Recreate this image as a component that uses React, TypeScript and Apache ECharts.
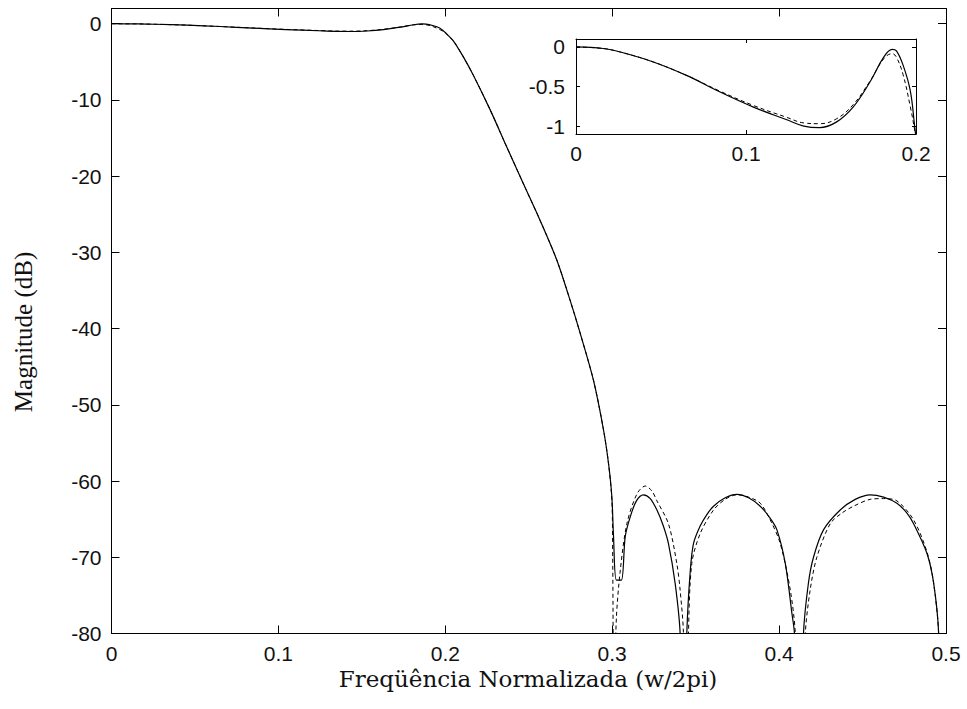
import React, { useEffect, useRef } from "react";
import * as echarts from "echarts";

// Passband (0 .. 0.2), shared by the main plot and the inset
const passFreq = [0, 0.016, 0.026, 0.0455, 0.065, 0.0848, 0.1044, 0.124, 0.134, 0.1433, 0.1531, 0.163, 0.173, 0.181, 0.186, 0.1885, 0.1924, 0.1966, 0.1992, 0.2];
const passSolid = [0, -0.02, -0.064, -0.19, -0.36, -0.57, -0.76, -0.92, -1.0, -1.02, -0.95, -0.76, -0.44, -0.13, -0.03, -0.05, -0.23, -0.55, -1.0, -1.15];
const passDashed = [0, -0.02, -0.064, -0.19, -0.36, -0.56, -0.74, -0.89, -0.96, -0.97, -0.91, -0.73, -0.43, -0.15, -0.085, -0.13, -0.35, -0.75, -1.05, -1.2];

// Transition band (common to both responses)
const transFreq = [0.205, 0.2108, 0.2168, 0.2269, 0.2369, 0.2468, 0.2568, 0.2668, 0.2748, 0.2808, 0.2888, 0.2948, 0.2978];
const transDb = [-2.3, -4.35, -6.75, -11.3, -16.2, -21.0, -25.8, -31.0, -36.3, -40.6, -46.8, -53.3, -57.7];

// Stopband, solid response
const stopFreqSolid = [0.2998, 0.3008, 0.3025, 0.3055, 0.3078, 0.3108, 0.3145, 0.3187, 0.3228, 0.3268, 0.3305, 0.3337, 0.3377, 0.3407, 0.3427, 0.3447, 0.3467, 0.3487, 0.3527, 0.3567, 0.3607, 0.3677, 0.3747, 0.3817, 0.3887, 0.3947, 0.3987, 0.4037, 0.4077, 0.4092, 0.4118, 0.4146, 0.4175, 0.4206, 0.4266, 0.4366, 0.4456, 0.4546, 0.4626, 0.4706, 0.4766, 0.4806, 0.4886, 0.4926, 0.4956, 0.4975];
const stopSolid = [-62.1, -67.3, -73, -73, -67.3, -64.7, -62.6, -61.8, -62.3, -63.8, -65.8, -68.2, -73.4, -80, -100, -80, -72, -68.2, -65.9, -64.4, -63.3, -62.2, -61.75, -62.2, -63.3, -64.9, -66.4, -70.8, -77.4, -80, -100, -80, -73.5, -70, -66.4, -63.8, -62.4, -61.8, -62.1, -62.9, -64.2, -65.6, -69.5, -73.4, -80, -100];

// Stopband, dashed response
const stopFreqDashed = [0.2998, 0.3003, 0.301, 0.3025, 0.3048, 0.3088, 0.3148, 0.3198, 0.3238, 0.3268, 0.3337, 0.3387, 0.3407, 0.3427, 0.3442, 0.3457, 0.3477, 0.3527, 0.3607, 0.3677, 0.3747, 0.3817, 0.3887, 0.3947, 0.4007, 0.4067, 0.4097, 0.4125, 0.4157, 0.4186, 0.4226, 0.4306, 0.4376, 0.4446, 0.4546, 0.4626, 0.4706, 0.4806, 0.4886, 0.4926, 0.4956, 0.4975];
const stopDashed = [-62.5, -70, -90, -78, -71.8, -65.6, -61.7, -60.65, -61.3, -62.6, -65.6, -70.8, -74.3, -80, -100, -80, -70.8, -66.9, -63.8, -62.4, -61.8, -62.1, -62.9, -65.1, -68.2, -74.3, -80, -100, -80, -74.3, -70, -65.6, -64.2, -63.3, -62.4, -62.3, -62.6, -65.1, -69.3, -73.4, -80, -100];

// Tick values
const mainXTicks = [0, 0.1, 0.2, 0.3, 0.4, 0.5];
const mainYTicks = [-80, -70, -60, -50, -40, -30, -20, -10, 0];
const insetXTicks = [0, 0.1, 0.2];
const insetYTicks = [-1, -0.5, 0];

const xTitle = "Freqüência Normalizada (w/2pi)";
const yTitle = "Magnitude (dB)";

const pairs = (xs: number[], ys: number[]) => xs.map((x, i) => [x, ys[i]]);

const fmt = (v: number) => String(Math.round(v * 1000) / 1000);

export default function App() {
  const ref = useRef<HTMLDivElement>(null);

  useEffect(() => {
    if (!ref.current) return;
    const chart = echarts.init(ref.current, undefined, { renderer: "svg" });

    const mainSolid = [...pairs(passFreq, passSolid), ...pairs(transFreq, transDb), ...pairs(stopFreqSolid, stopSolid)];
    const mainDashed = [...pairs(passFreq, passDashed), ...pairs(transFreq, transDb), ...pairs(stopFreqDashed, stopDashed)];
    const insetSolid = pairs(passFreq, passSolid);
    const insetDashed = pairs(passFreq, passDashed);

    const black = "#000";
    const labelStyle = { fontFamily: "Liberation Sans", fontSize: 21, color: "#111" };
    const line = { lineStyle: { color: black, width: 1 } };

    const axisBase = (gridIndex: number, min: number, max: number, ticks: number[], position: string, showLabel: boolean, tickLen: number, margin: number) => ({
      type: "value",
      gridIndex,
      min,
      max,
      position,
      axisLine: { show: true, onZero: false, ...line },
      axisTick: { show: true, inside: true, length: tickLen, customValues: ticks, ...line },
      axisLabel: { show: showLabel, customValues: ticks, formatter: fmt, margin, ...labelStyle },
      splitLine: { show: false },
    });

    const option: any = {
      animation: false,
      backgroundColor: "#fff",
      grid: [
        { left: 111.5, top: 8.5, right: 21, bottom: 75.5, outerBoundsMode: "none", containLabel: false },
        { left: 576, top: 39, right: 51, bottom: 575, outerBoundsMode: "none", containLabel: false, show: true, backgroundColor: "#fff", borderWidth: 0, z: 5 },
      ],
      xAxis: [
        axisBase(0, 0, 0.5, mainXTicks, "bottom", true, 8, 9),
        axisBase(0, 0, 0.5, mainXTicks, "top", false, 8, 9),
        { ...axisBase(1, 0, 0.2, insetXTicks, "bottom", true, 4, 9), z: 6 },
        { ...axisBase(1, 0, 0.2, insetXTicks, "top", false, 4, 9), z: 6 },
      ],
      yAxis: [
        axisBase(0, -80, 2, mainYTicks, "left", true, 8, 10),
        axisBase(0, -80, 2, mainYTicks, "right", false, 8, 10),
        { ...axisBase(1, -1.1, 0.1, insetYTicks, "left", true, 4, 11), z: 6 },
        { ...axisBase(1, -1.1, 0.1, insetYTicks, "right", false, 4, 11), z: 6 },
      ],
      series: [
        {
          type: "line", xAxisIndex: 0, yAxisIndex: 0, data: mainDashed, showSymbol: false, clip: true, smooth: 0.3,
          lineStyle: { color: black, width: 1, type: [4, 3] }, z: 2,
        },
        {
          type: "line", xAxisIndex: 0, yAxisIndex: 0, data: mainSolid, showSymbol: false, clip: true, smooth: 0.3,
          lineStyle: { color: black, width: 1.2 }, z: 3,
        },
        {
          type: "line", xAxisIndex: 2, yAxisIndex: 2, data: insetDashed, showSymbol: false, clip: true, smooth: 0.4,
          lineStyle: { color: black, width: 1, type: [4, 3] }, z: 7,
        },
        {
          type: "line", xAxisIndex: 2, yAxisIndex: 2, data: insetSolid, showSymbol: false, clip: true, smooth: 0.4,
          lineStyle: { color: black, width: 1.2 }, z: 8,
        },
      ],
      graphic: [
        {
          type: "text", x: 528, y: 679, z: 10,
          style: { text: xTitle, fontFamily: "DejaVu Serif", fontSize: 23, fill: "#111", textAlign: "center", textVerticalAlign: "middle" },
        },
        {
          type: "text", x: 23.5, y: 332, rotation: Math.PI / 2, z: 10,
          style: { text: yTitle, fontFamily: "Liberation Serif", fontSize: 25, fill: "#111", textAlign: "center", textVerticalAlign: "middle" },
        },
      ],
    };

    chart.setOption(option);
    return () => chart.dispose();
  }, []);

  return <div ref={ref} style={{ position: "fixed", left: 0, top: 0, width: 967, height: 709, background: "#fff" }} />;
}
